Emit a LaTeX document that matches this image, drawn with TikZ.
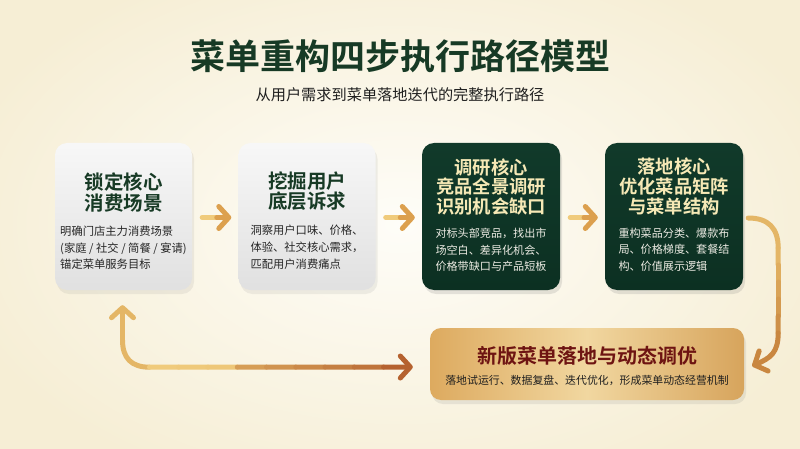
\documentclass[tikz,border=0pt]{standalone}
\usepackage{fontspec}
\setmainfont{Noto Sans CJK SC}[BoldFont={Noto Sans CJK SC Bold}]
\usetikzlibrary{arrows.meta,shadows,calc}
\definecolor{bgin}{HTML}{FEFDF8}
\definecolor{bgout}{HTML}{F6EED5}
\definecolor{titlegreen}{HTML}{173A25}
\definecolor{darkbox}{HTML}{113A2A}
\definecolor{darkboxb}{HTML}{0C3022}
\definecolor{paleyel}{HTML}{F6E9B6}
\definecolor{bodylight}{HTML}{ECEBE3}
\definecolor{goldA}{HTML}{E4B666}
\definecolor{goldB}{HTML}{F0CB7C}
\definecolor{goldD}{HTML}{DCA04E}
\definecolor{copper}{HTML}{B5622F}
\definecolor{goldC}{HTML}{C98740}
\definecolor{redtitle}{HTML}{6E1412}
\definecolor{gbL}{HTML}{DDAA5F}
\definecolor{gbM}{HTML}{F1D7A0}
\definecolor{gbR}{HTML}{D7A45C}
\tikzset{
  lightbox/.style={rounded corners=12pt, minimum width=137pt, minimum height=147pt, inner sep=0pt,
    top color=black!3, bottom color=black!12, draw=none,
    drop shadow={opacity=0.12, shadow xshift=2pt, shadow yshift=-4pt}},
  darkboxst/.style={rounded corners=12pt, minimum width=138pt, minimum height=147pt, inner sep=0pt,
    top color=darkbox, bottom color=darkboxb, draw=none,
    drop shadow={opacity=0.2, shadow xshift=2pt, shadow yshift=-4pt}},
  goldbox/.style={rounded corners=11pt, minimum width=314pt, minimum height=72pt, inner sep=0pt,
    left color=gbL, right color=gbR, middle color=gbM, draw=none,
    drop shadow={opacity=0.15, shadow xshift=2pt, shadow yshift=-4pt}},
  ltitle/.style={font=\bfseries\fontsize{19.5}{20.5}\selectfont, text=titlegreen, align=center, inner sep=0pt},
  dtitle/.style={font=\bfseries\fontsize{18.3}{19.7}\selectfont, text=paleyel, align=center, inner sep=0pt},
  lbody/.style={font=\fontsize{11.3}{16.6}\selectfont, text=black!85, align=left, inner sep=0pt},
  dbody/.style={font=\fontsize{11.1}{16.8}\selectfont, text=bodylight, align=left, inner sep=0pt},
  seg/.style={line width=5pt, line cap=round},
  headA/.style={-{Straight Barb[length=10pt,width=22pt,line cap=round,line join=round]}},
}
\begin{document}
\begin{tikzpicture}[x=1pt,y=-1pt]
\useasboundingbox (0,0) rectangle (800,449);
\shade[inner color=bgin, outer color=bgout] (-60,-60) rectangle (860,509);

% title
\node[font=\bfseries\fontsize{35}{38}\selectfont, text=titlegreen] (title) at (400,56) {菜单重构四步执行路径模型};
\node[font=\fontsize{15.2}{17}\selectfont, text=black!88] (sub) at (400,95) {从用户需求到菜单落地迭代的完整执行路径};

% boxes
\node[lightbox] (b1) at (123.5,216.5) {};
\node[lightbox] (b2) at (307,216.5) {};
\node[darkboxst] (b3) at (491,216.5) {};
\node[darkboxst] (b4) at (674,216.5) {};
\node[goldbox] (b5) at (587,364) {};

% box texts
\node[ltitle] (t1) at ($(b1.north)+(0,49.5)$) {锁定核心\\消费场景};
\node[lbody] (d1) at ($(b1.north)+(0,105)$) {明确门店主力消费场景\\(家庭 / 社交 / 简餐 / 宴请)\\锚定菜单服务目标};
\node[ltitle] (t2) at ($(b2.north)+(0,48.5)$) {挖掘用户\\底层诉求};
\node[lbody] (d2) at ($(b2.north)+(0,104.5)$) {洞察用户口味、价格、\\体验、社交核心需求，\\匹配用户消费痛点};
\node[dtitle] (t3) at ($(b3.north)+(0,44)$) {调研核心\\竞品全景调研\\识别机会缺口};
\node[dbody] (d3) at ($(b3.north)+(0,107)$) {对标头部竞品，找出市\\场空白、差异化机会、\\价格带缺口与产品短板};
\node[dtitle] (t4) at ($(b4.north)+(0,43.5)$) {落地核心\\优化菜品矩阵\\与菜单结构};
\node[dbody] (d4) at ($(b4.north)+(0,107)$) {重构菜品分类、爆款布\\局、价格梯度、套餐结\\构、价值展示逻辑};
\node[font=\bfseries\fontsize{20}{22}\selectfont, text=redtitle, inner sep=0pt] (t5) at ($(b5.north)+(0,28)$) {新版菜单落地与动态调优};
\node[font=\fontsize{10.9}{13}\selectfont, text=black!88, inner sep=0pt] (d5) at ($(b5.north)+(0,53)$) {落地试运行、数据复盘、迭代优化，形成菜单动态经营机制};

% short arrows between boxes
\foreach \a/\b in {b1/b2, b2/b3, b3/b4}{
  \coordinate (s) at ($(\a.east)+(10,1)$);
  \coordinate (e) at ($(\b.west)+(-7,1)$);
  \coordinate (m) at ($(s)!0.5!(e)$);
  \draw[seg, draw=goldB] (s) -- (m);
  \draw[seg, headA, draw=goldD] (m) -- (e);
}

% right curved arrow b4 -> b5
\coordinate (r0) at ($(b4.east)+(5,1.5)$);
\coordinate (r1) at ($(r0)+(30,30)$);
\coordinate (r2) at ($(r1)+(0,85)$);
\coordinate (r3) at ($(b5.east)+(8,2)$);
\draw[seg, draw=goldA] (r0) .. controls ($(r0)+(20,0)$) and ($(r1)+(0,-20)$) .. (r1);
\foreach \i in {0,...,4}{
  \pgfmathtruncatemacro\p{100-\i*20}
  \draw[seg, draw=goldA!\p!goldC] ($(r1)!\i/5!(r2)$) -- ($(r1)!{(\i+1)/5}!(r2)$);
}
\draw[seg, headA, draw=goldC] (r2) .. controls ($(r2)+(0,20)$) and ($(r3)+(18,-8)$) .. (r3);

% left double arrow b5 <-> b1
\coordinate (l0) at ($(b1.south)+(-1,15)$);
\coordinate (l1) at ($(b1.south)+(-1,50)$);
\coordinate (l2) at ($(l1)+(27,27)$);
\coordinate (l3) at ($(b5.west)+(-17,3)$);
\draw[seg, headA, draw=goldA] (l1) -- (l0);
\draw[seg, draw=goldA] (l1) .. controls ($(l1)+(0,18)$) and ($(l2)+(-18,0)$) .. (l2);
\foreach \i in {0,...,8}{
  \pgfmathtruncatemacro\p{\i<3 ? 100-\i*10 : 70-(\i-3)*12}
  \ifnum\i<3
    \draw[seg, draw=goldB!\p!goldA] ($(l2)!\i/9!(l3)$) -- ($(l2)!{(\i+1)/9}!(l3)$);
  \else
    \ifnum\i=8
      \draw[seg, headA, draw=copper] ($(l2)!\i/9!(l3)$) -- (l3);
    \else
      \draw[seg, draw=goldA!\p!copper] ($(l2)!\i/9!(l3)$) -- ($(l2)!{(\i+1)/9}!(l3)$);
    \fi
  \fi
}
\end{tikzpicture}
\end{document}
